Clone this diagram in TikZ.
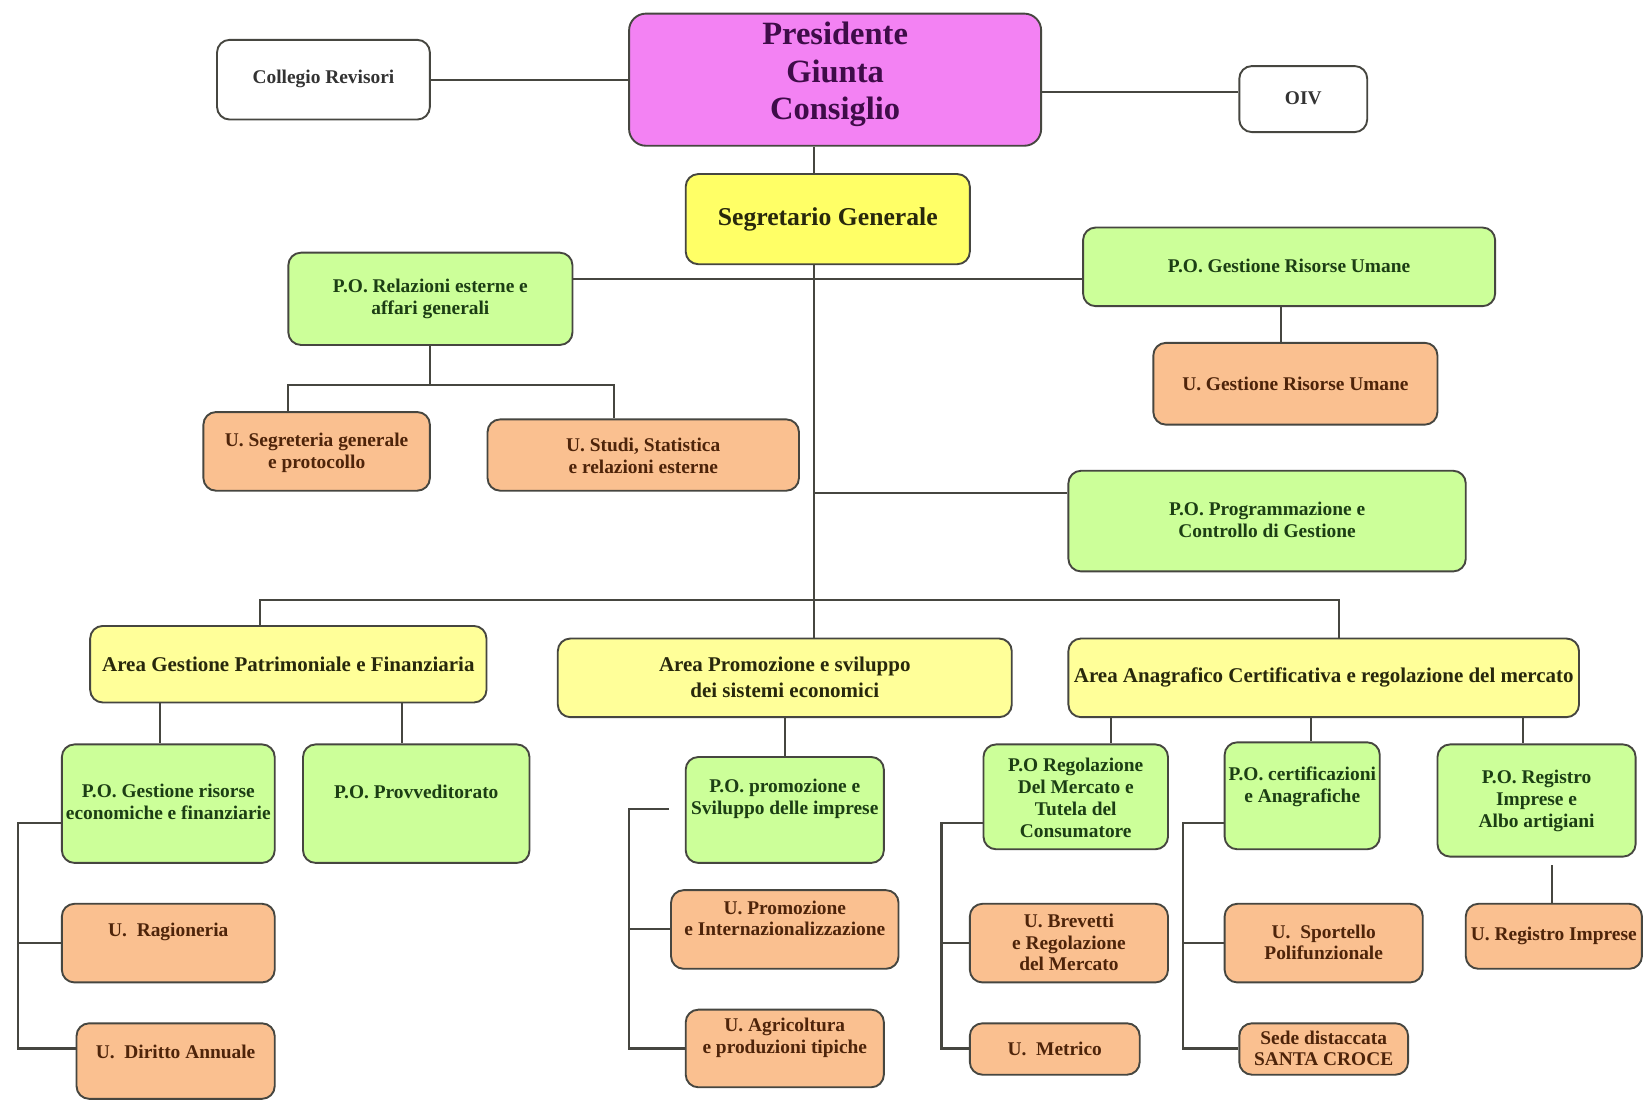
\documentclass[tikz,border=0pt]{standalone}
\usepackage{fontspec}
\setmainfont{Liberation Serif}
\definecolor{magbox}{RGB}{243,130,243}
\definecolor{yelbox}{RGB}{255,255,102}
\definecolor{areabox}{RGB}{255,255,153}
\definecolor{grnbox}{RGB}{204,255,153}
\definecolor{orgbox}{RGB}{250,192,144}
\definecolor{grntxt}{RGB}{28,62,20}
\definecolor{orgtxt}{RGB}{78,36,10}
\definecolor{yeltxt}{RGB}{40,40,12}
\definecolor{magtxt}{RGB}{62,12,72}
\definecolor{edge}{RGB}{70,70,64}
\tikzset{
  basebox/.style={draw=edge, line width=1.8pt, rounded corners=12pt, inner sep=0pt},
  wbox/.style={basebox, fill=white},
  wboxtxt/.style={font=\fontsize{18.5}{22}\selectfont\bfseries, text=black!80, align=center},
  pbox/.style={basebox, fill=magbox, rounded corners=16pt},
  pboxtxt/.style={font=\fontsize{31}{36}\selectfont\bfseries, text=magtxt, align=center},
  sbox/.style={basebox, fill=yelbox},
  sboxtxt/.style={font=\fontsize{24.5}{28}\selectfont\bfseries, text=yeltxt, align=center},
  abox/.style={basebox, fill=areabox},
  aboxtxt/.style={font=\fontsize{20}{24}\selectfont\bfseries, text=yeltxt, align=center},
  gbox/.style={basebox, fill=grnbox},
  gboxtxt/.style={font=\fontsize{18.5}{21}\selectfont\bfseries, text=grntxt, align=center},
  obox/.style={basebox, fill=orgbox},
  oboxtxt/.style={font=\fontsize{18.5}{20.5}\selectfont\bfseries, text=orgtxt, align=center},
  conn/.style={draw=edge, line width=2pt},
}
\newcommand\orgnode[8]{%
  \node[#2, minimum width={#5-#3}, minimum height={#6-#4}] (#1) at ({(#3+#5)/2},{(#4+#6)/2}) {};
  \node[#2txt] (#1-t) at ({(#3+#5)/2},{#7}) {#8};
}
\begin{document}
\begin{tikzpicture}[x=1pt,y=-1pt]
\fill[white] (0,0) rectangle (1568,1050);
\useasboundingbox (0,0) rectangle (1568,1050);

% junction coordinates
\coordinate (hr) at (776,266);
\coordinate (hp) at (776,470);
\coordinate (tk) at (776,572);
\coordinate (bl) at (248,572);
\coordinate (br) at (1277,572);
\coordinate (rj) at (410,367);
\coordinate (rjl) at (275,367);
\coordinate (rjr) at (586,367);
\coordinate (gx) at (1222,300);
\coordinate (b1) at (17,785);
\coordinate (b1m) at (17,899);
\coordinate (b1e) at (17,1000);
\coordinate (b2s) at (638,772);
\coordinate (b2) at (600,772);
\coordinate (b2m) at (600,886);
\coordinate (b2e) at (600,1000);
\coordinate (b3) at (898,785);
\coordinate (b3m) at (898,899);
\coordinate (b3e) at (898,1000);
\coordinate (b4) at (1128,785);
\coordinate (b4m) at (1128,899);
\coordinate (b4e) at (1128,1000);
\coordinate (rgs) at (1480,825);

% boxes
\orgnode{coll}{wbox}{207}{38}{410}{114}{75}{Collegio Revisori}
\orgnode{pres}{pbox}{600}{13}{993}{139}{71}{Presidente\\Giunta\\Consiglio}
\orgnode{oiv}{wbox}{1182}{63}{1304}{126}{94}{OIV}
\orgnode{seg}{sbox}{654}{166}{925}{252}{209}{Segretario Generale}
\orgnode{rel}{gbox}{275}{241}{546}{329}{285}{P.O. Relazioni esterne e\\affari generali}
\orgnode{gru}{gbox}{1033}{217}{1426}{292}{254}{P.O. Gestione Risorse Umane}
\orgnode{ugru}{obox}{1100}{327}{1371}{405}{366}{U. Gestione Risorse Umane}
\orgnode{useg}{obox}{194}{393}{410}{468}{432}{U. Segreteria generale\\e protocollo}
\orgnode{ustu}{obox}{465}{400}{762}{468}{435}{U. Studi, Statistica\\e relazioni esterne}
\orgnode{prog}{gbox}{1019}{449}{1398}{545}{496}{P.O. Programmazione e\\Controllo di Gestione}
\orgnode{agp}{abox}{86}{597}{464}{670}{634}{Area Gestione Patrimoniale e Finanziaria}
\orgnode{apr}{abox}{532}{609}{965}{684}{646}{Area Promozione e sviluppo\\dei sistemi economici}
\orgnode{aac}{abox}{1019}{609}{1506}{684}{646}{Area Anagrafico Certificativa e regolazione del mercato}
\orgnode{pgr}{gbox}{59}{710}{262}{823}{765}{P.O. Gestione risorse\\economiche e finanziarie}
\orgnode{ppr}{gbox}{289}{710}{505}{823}{755}{P.O. Provveditorato}
\orgnode{urag}{obox}{59}{862}{262}{937}{889}{U.\ \ Ragioneria}
\orgnode{udir}{obox}{73}{976}{262}{1048}{1003}{U.\ \ Diritto Annuale}
\orgnode{pps}{gbox}{654}{722}{843}{823}{762}{P.O. promozione e\\Sviluppo delle imprese}
\orgnode{upi}{obox}{640}{849}{857}{924}{876}{U. Promozione\\e Internazionalizzazione}
\orgnode{uag}{obox}{654}{963}{843}{1037}{990}{U. Agricoltura\\e produzioni tipiche}
\orgnode{preg}{gbox}{938}{710}{1114}{810}{761}{P.O Regolazione\\Del Mercato e\\Tutela del\\Consumatore}
\orgnode{pcert}{gbox}{1168}{708}{1316}{810}{750}{P.O. certificazioni\\e Anagrafiche}
\orgnode{preg2}{gbox}{1371}{710}{1560}{817}{764}{P.O. Registro\\Imprese e\\Albo artigiani}
\orgnode{ubrev}{obox}{925}{862}{1114}{937}{899}{U. Brevetti\\e Regolazione\\del Mercato}
\orgnode{umet}{obox}{925}{976}{1087}{1025}{1000}{U.\ \ Metrico}
\orgnode{uspo}{obox}{1168}{862}{1357}{937}{899}{U.\ \ Sportello\\Polifunzionale}
\orgnode{sede}{obox}{1182}{976}{1343}{1025}{1000}{Sede distaccata\\SANTA CROCE}
\orgnode{ureg}{obox}{1398}{862}{1566}{924}{893}{U. Registro Imprese}

% connectors
\draw[conn] (coll.east) -- (pres.west |- coll.east);
\draw[conn] (pres.east |- 0,88) -- (oiv.west |- 0,88);
\draw[conn] (pres.south -| tk) -- (seg.north -| tk);
\draw[conn] (seg.south -| tk) -- (apr.north -| tk);
\draw[conn] (rel.east |- hr) -- (gru.west |- hr);
\draw[conn] (gru.south -| gx) -- (ugru.north -| gx);
\draw[conn] (rel.south -| rj) -- (rj);
\draw[conn] (useg.north -| rjl) -- (rjl) -- (rjr) -- (ustu.north -| rjr);
\draw[conn] (hp) -- (prog.west |- hp);
\draw[conn] (agp.north -| bl) -- (bl) -- (br) -- (aac.north -| br);
\draw[conn] (agp.south -| 153,0) -- (pgr.north -| 153,0);
\draw[conn] (agp.south -| 383,0) -- (ppr.north -| 383,0);
\draw[conn] (pgr.west |- b1) -- (b1) -- (b1e) -- (udir.west |- b1e);
\draw[conn] (b1m) -- (urag.west |- b1m);
\draw[conn] (apr.south -| 749,0) -- (pps.north -| 749,0);
\draw[conn] (b2s) -- (b2) -- (b2e) -- (uag.west |- b2e);
\draw[conn] (b2m) -- (upi.west |- b2m);
\draw[conn] (aac.south -| 1060,0) -- (preg.north -| 1060,0);
\draw[conn] (aac.south -| 1250,0) -- (pcert.north -| 1250,0);
\draw[conn] (aac.south -| 1453,0) -- (preg2.north -| 1453,0);
\draw[conn] (preg.west |- b3) -- (b3) -- (b3e) -- (umet.west |- b3e);
\draw[conn] (b3m) -- (ubrev.west |- b3m);
\draw[conn] (pcert.west |- b4) -- (b4) -- (b4e) -- (sede.west |- b4e);
\draw[conn] (b4m) -- (uspo.west |- b4m);
\draw[conn] (rgs) -- (ureg.north -| rgs);
\end{tikzpicture}
\end{document}
